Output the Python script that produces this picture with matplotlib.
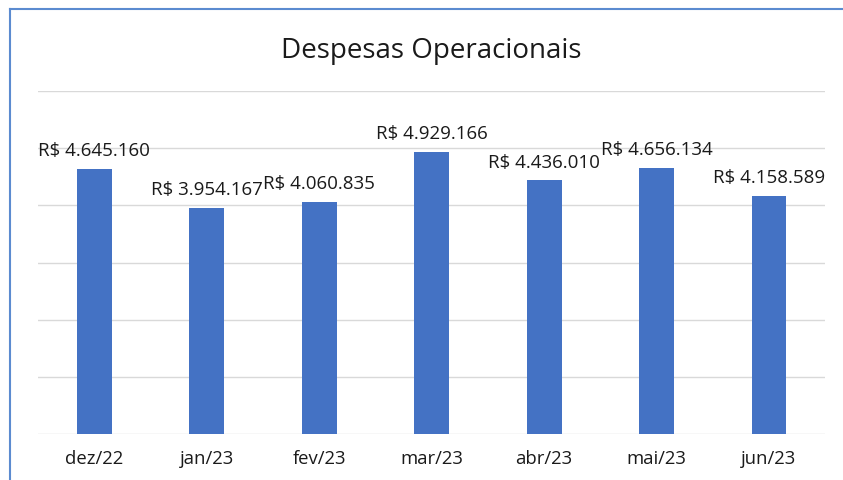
import matplotlib.pyplot as plt
from matplotlib.lines import Line2D

meses = ["dez/22", "jan/23", "fev/23", "mar/23", "abr/23", "mai/23", "jun/23"]
despesas = [4645160, 3954167, 4060835, 4929166, 4436010, 4656134, 4158589]

plt.rcParams['font.family'] = ['Open Sans', 'DejaVu Sans']

fig = plt.figure(figsize=(8.43, 4.81), dpi=100)
ax = fig.add_axes([0.045, 0.0956, 0.934, 0.713])

x = range(len(meses))
ax.bar(x, despesas, width=0.31, color="#4472C4", zorder=3)
ax.set_ylim(0, 6000000)
ax.set_xlim(-0.5, len(meses) - 0.5)
ax.set_yticks([1e6 * i for i in range(7)])
ax.yaxis.grid(True, color="#D9D9D9", linewidth=1, zorder=0)
ax.tick_params(axis="y", left=False, labelleft=False)
ax.tick_params(axis="x", length=0, pad=11, labelsize=13.3, colors="#1a1a1a")
ax.set_xticks(list(x))
ax.set_xticklabels(meses)
for s in ax.spines.values():
    s.set_visible(False)

def fmt(v):
    return "R$ " + f"{v:,}".replace(",", ".")

for i, v in enumerate(despesas):
    ax.annotate(fmt(v), (i, v), xytext=(0, 10), textcoords="offset points",
                ha="center", va="baseline", fontsize=13.5, color="#1a1a1a")

fig.text(0.512, 0.893, "Despesas Operacionais", ha="center", va="center",
         fontsize=20, color="#1a1a1a")

# borda azul da seleção
fig.add_artist(Line2D([10 / 843, 10 / 843], [0, 1 - 10 / 481], color="#5B8BD0",
                      linewidth=1.5, transform=fig.transFigure))
fig.add_artist(Line2D([10 / 843, 1], [1 - 10 / 481, 1 - 10 / 481], color="#5B8BD0",
                      linewidth=1.5, transform=fig.transFigure))

fig.savefig("out.png", dpi=100)
